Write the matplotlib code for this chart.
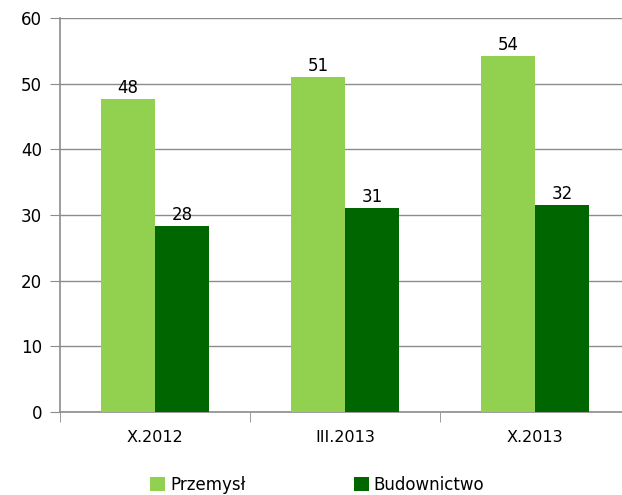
import matplotlib.pyplot as plt
import numpy as np

categories = ["X.2012", "III.2013", "X.2013"]
przemysl = [47.6, 51.0, 54.2]
budownictwo = [28.3, 31.1, 31.5]
przemysl_labels = ["48", "51", "54"]
budownictwo_labels = ["28", "31", "32"]

fig = plt.figure(figsize=(6.22, 4.95), dpi=100)
ax = fig.add_axes([60 / 622, 83 / 495, 570 / 622, 394 / 495])

x = np.arange(len(categories))
w = 0.285
b1 = ax.bar(x - w / 2, przemysl, w, color="#92D050", label="Przemysł", zorder=3)
b2 = ax.bar(x + w / 2, budownictwo, w, color="#006600", label="Budownictwo", zorder=3)

for rect, lab in zip(b1, przemysl_labels):
    ax.text(rect.get_x() + rect.get_width() / 2, rect.get_height() + 0.3, lab,
            ha="center", va="bottom", fontsize=12)
for rect, lab in zip(b2, budownictwo_labels):
    ax.text(rect.get_x() + rect.get_width() / 2, rect.get_height() + 0.3, lab,
            ha="center", va="bottom", fontsize=12)

ax.set_xlim(-0.5, 2.5)
ax.set_ylim(0, 60)
ax.set_yticks(range(0, 61, 10))
ax.yaxis.grid(True, color="#8c8c8c", linewidth=1, zorder=0)
ax.tick_params(axis="y", length=7, color="#8c8c8c", labelsize=12, pad=6)

# category labels in the middle, tick marks at the boundaries
ax.set_xticks(x)
ax.set_xticklabels(categories, fontsize=11.5)
ax.tick_params(axis="x", length=0, pad=13)
ax.set_xticks([-0.5, 0.5, 1.5, 2.5], minor=True)
ax.tick_params(axis="x", which="minor", length=7, color="#8c8c8c")

for s in ["top", "right"]:
    ax.spines[s].set_visible(False)
ax.spines["left"].set_color("#8c8c8c")
ax.spines["bottom"].set_color("#8c8c8c")
ax.spines["left"].set_linewidth(1.2)
ax.spines["bottom"].set_linewidth(1.2)

fig.legend(handles=[b1, b2], loc="center", bbox_to_anchor=(0.51, 1 - 485 / 495),
           ncol=2, frameon=False, fontsize=12, handlelength=0.9, handleheight=0.9,
           handletextpad=0.3, columnspacing=6.5)

fig.savefig("out.png", dpi=100)
